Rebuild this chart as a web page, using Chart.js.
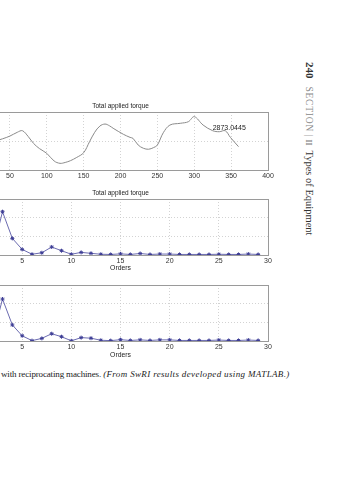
<!DOCTYPE html>
<html><head><meta charset="utf-8">
<script src="https://cdn.jsdelivr.net/npm/chart.js@4.4.1/dist/chart.umd.min.js"></script>
<style>
html,body{margin:0;padding:0;background:#fff;width:359px;height:480px;overflow:hidden;position:relative;}
canvas{position:absolute;}
.hdr{position:absolute;left:316px;top:62px;transform-origin:0 0;transform:rotate(90deg);white-space:nowrap;font-family:"Liberation Serif",serif;font-size:10.5px;line-height:12px;color:#333;}
.cap{position:absolute;left:1px;top:369px;white-space:nowrap;font-family:"Liberation Serif",serif;font-size:9px;color:#222;letter-spacing:-0.15px;}
.cap i{letter-spacing:0.35px;}
</style></head><body>
<div class="hdr"><b style="font-size:11px">240</b>&nbsp;&nbsp;&nbsp;<span style="font-size:9.5px;color:#888;letter-spacing:0.8px">SECTION</span> <span style="color:#aaa">|</span> <span style="font-size:9px;color:#777">II</span>&nbsp; Types of Equipment</div>
<div class="cap">with reciprocating machines. <i>(From SwRI results developed using MATLAB.)</i></div>
<canvas id="c1" width="320" height="80" style="left:-40px;top:100px"></canvas>
<canvas id="c2" width="320" height="90" style="left:-40px;top:185px"></canvas>
<canvas id="c3" width="320" height="85" style="left:-40px;top:275px"></canvas>
<script>
// ---- data ----
const crankAngles = [0,15,30,40,50,60,67,75,82,90,100,110,118,125,132,140,150,158,165,172,179,185,190,204,213,217,224,231,238,245,250,258,267,281,292,300,312,325,334,342,349,360];
const totalTorque = [2760,2780,2800,2815,2834,2860,2871,2830,2784,2748,2715,2662,2646,2652,2664,2685,2719,2795,2860,2903,2917,2905,2888,2846,2825,2818,2772,2750,2743,2755,2772,2857,2910,2922,2933,2968,2910,2871,2864,2871,2825,2761];
const angleTicks = [0,50,100,150,200,250,300,350,400];
const orders = [1,2,3,4,5,6,7,8,9,10,11,12,13,14,15,16,17,18,19,20,21,22,23,24,25,26,27,28,29];
const spectrumA = [40,20,232,89,30,4,12,43,23,4,14,9,4,3,6,3,8,3,5,5,3,3,3,3,4,3,3,5,3];
const spectrumB = [40,20,225,86,28,2,14,39,23,1,18,15,4,2,7,3,6,3,6,6,3,3,3,3,5,3,3,5,3];
const orderTicks = [0,5,10,15,20,25,30];
const noteAngle = 325, noteTorque = 2890, noteText = "2873.0445";
const chartTitle = "Total applied torque";
const xTitle = "Orders";

const FONT = '"Liberation Sans", Arial, sans-serif';
const deco = {
  id: 'deco',
  afterDraw(chart, args, o) {
    const {ctx, chartArea: a} = chart;
    ctx.save();
    ctx.setLineDash([]);
    ctx.strokeStyle = '#9a9a9a'; ctx.lineWidth = 1;
    ctx.strokeRect(Math.round(a.left) + 0.5, Math.round(a.top) + 0.5, Math.round(a.right - a.left), Math.round(a.bottom - a.top));
    ctx.fillStyle = '#222'; ctx.textAlign = 'center'; ctx.textBaseline = 'middle';
    if (o.title) { ctx.font = '6.5px ' + FONT; ctx.fillText(o.title, (a.left + a.right) / 2, a.top - 6); }
    if (o.xlabel) { ctx.font = '6.8px ' + FONT; ctx.fillText(o.xlabel, (a.left + a.right) / 2, a.bottom + o.xlabelOffset); }
    if (o.note) {
      ctx.textAlign = 'left'; ctx.font = '7px ' + FONT;
      ctx.fillText(o.note.text, chart.scales.x.getPixelForValue(o.note.x), chart.scales.y.getPixelForValue(o.note.y));
    }
    ctx.restore();
  }
};

function makeChart(id, dataset, xmin, xmax, xticks, ymin, ymax, ystep, pt, xh, decoOpts) {
  return new Chart(document.getElementById(id), {
    type: 'line',
    data: { datasets: [dataset] },
    options: {
      responsive: false, animation: false,
      layout: { padding: { left: 13, right: 12, top: pt, bottom: 0 } },
      plugins: { legend: { display: false }, tooltip: { enabled: false }, title: { display: false }, deco: decoOpts },
      scales: {
        x: {
          type: 'linear', min: xmin, max: xmax,
          afterBuildTicks: s => { s.ticks = xticks.map(v => ({value: v})); },
          afterFit: s => { s.height = xh; },
          grid: { color: '#c8c8c8', lineWidth: 0.8, drawTicks: false },
          border: { display: false, dash: [1, 2] },
          ticks: { padding: 1.5, font: { size: 7, family: FONT }, color: '#333', maxRotation: 0, autoSkip: false }
        },
        y: {
          min: ymin, max: ymax,
          ticks: { stepSize: ystep, display: false },
          afterFit: s => { s.width = 0; },
          grid: { color: '#c8c8c8', lineWidth: 0.8, drawTicks: false },
          border: { display: false, dash: [1, 2] }
        }
      }
    },
    plugins: [deco]
  });
}

makeChart('c1', {
  data: crankAngles.map((a, i) => ({x: a, y: totalTorque[i]})),
  borderColor: '#8a8a8a', borderWidth: 1, pointRadius: 0, tension: 0.35, fill: false
}, 0, 400, angleTicks, 2600, 3000, 200, 12, 10,
{ title: chartTitle, note: {x: noteAngle, y: noteTorque, text: noteText} });

const specStyle = { borderColor: '#6b6bb0', borderWidth: 1, pointStyle: 'star', pointRadius: 2,
  pointBorderColor: '#3d3d95', pointBorderWidth: 1, tension: 0, fill: false };

makeChart('c2', Object.assign({ data: orders.map((o, i) => ({x: o, y: spectrumA[i]})) }, specStyle),
  0, 30, orderTicks, 0, 300, 100, 14, 20, { title: chartTitle, xlabel: xTitle, xlabelOffset: 13 });

makeChart('c3', Object.assign({ data: orders.map((o, i) => ({x: o, y: spectrumB[i]})) }, specStyle),
  0, 30, orderTicks, 0, 300, 100, 10, 19, { xlabel: xTitle, xlabelOffset: 14.5 });
</script>
</body></html>
